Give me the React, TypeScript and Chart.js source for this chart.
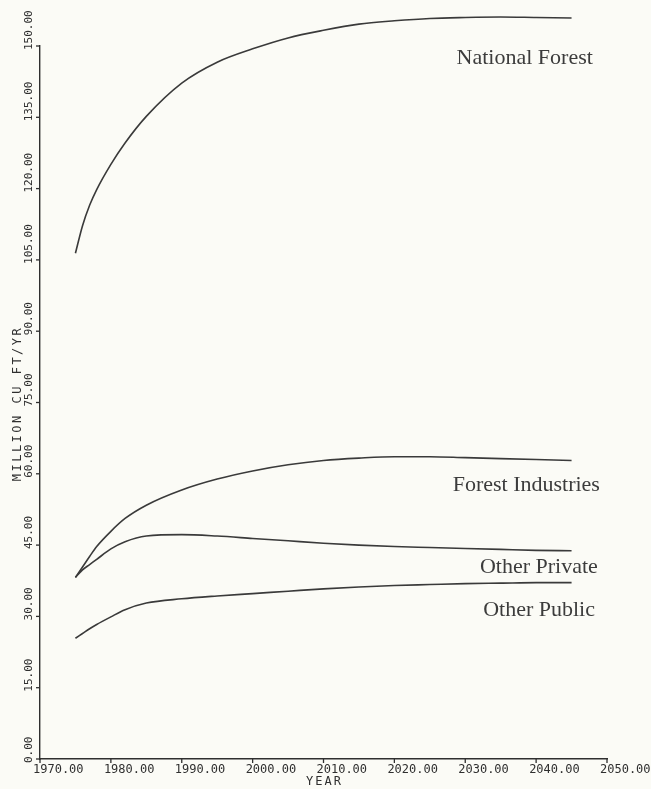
import React, { useEffect, useRef } from "react";
import { Chart, registerables } from "chart.js";

Chart.register(...registerables);

// Projection years shared by all ownership classes
const YEARS = [1975, 1976, 1977, 1978, 1980, 1982, 1985, 1990, 1995, 2000, 2005, 2010, 2015, 2020, 2025, 2030, 2035, 2040, 2045];

// Harvest, million cubic feet per year
const NATIONAL_FOREST = [106.4, 112.2, 116.5, 119.8, 125.1, 129.6, 135.2, 142.2, 146.6, 149.4, 151.7, 153.3, 154.6, 155.3, 155.8, 156.0, 156.1, 156.0, 155.9];
const FOREST_INDUSTRIES = [38.2, 40.4, 42.6, 44.7, 47.9, 50.6, 53.4, 56.6, 58.9, 60.6, 61.9, 62.8, 63.3, 63.6, 63.6, 63.4, 63.2, 63.0, 62.8];
const OTHER_PRIVATE = [38.2, 39.8, 40.9, 42.0, 44.2, 45.7, 46.9, 47.2, 46.9, 46.4, 45.9, 45.4, 45.0, 44.7, 44.5, 44.3, 44.1, 43.9, 43.8];
const OTHER_PUBLIC = [25.4, 26.4, 27.4, 28.3, 29.9, 31.4, 32.8, 33.7, 34.3, 34.8, 35.3, 35.8, 36.2, 36.5, 36.7, 36.9, 37.0, 37.1, 37.1];

const SERIES_NAMES = ["National Forest", "Forest Industries", "Other Private", "Other Public"];
const SERIES_VALUES = [NATIONAL_FOREST, FOREST_INDUSTRIES, OTHER_PRIVATE, OTHER_PUBLIC];

// Where each curve's name is written (right end of text, baseline) in data units
const LABEL_YEAR = [2048.0, 2049.0, 2048.7, 2048.3];
const LABEL_VALUE = [146.2, 56.4, 39.2, 30.1];

// Axis ranges
const X_MIN = 1970;
const X_MAX = 2050;
const X_STEP = 10;
const Y_MIN = 0;
const Y_MAX = 150;
const Y_STEP = 15;

const X_TITLE = "YEAR";
const Y_TITLE = "MILLION CU FT/YR";

const INK = "#2f2f2f";
const PAPER = "#fbfbf6";
const MONO = '"DejaVu Sans Mono", "Liberation Mono", monospace';

const plotterAxes = {
  id: "plotterAxes",
  beforeDraw(chart: any) {
    const { ctx, width, height } = chart;
    ctx.save();
    ctx.fillStyle = PAPER;
    ctx.fillRect(0, 0, width, height);
    ctx.restore();
  },
  afterDraw(chart: any) {
    const { ctx, chartArea } = chart;
    const x = chart.scales.x;
    const y = chart.scales.y;
    ctx.save();
    ctx.strokeStyle = INK;
    ctx.fillStyle = INK;
    ctx.lineWidth = 1.3;

    // x ticks: short marks below the axis, labels starting at the mark
    ctx.font = `12px ${MONO}`;
    ctx.textAlign = "left";
    ctx.textBaseline = "middle";
    x.ticks.forEach((t: any) => {
      const px = x.getPixelForValue(t.value);
      ctx.beginPath();
      ctx.moveTo(px, chartArea.bottom);
      ctx.lineTo(px, chartArea.bottom + 4);
      ctx.stroke();
      ctx.fillText(Number(t.value).toFixed(2), px - 7, chartArea.bottom + 11);
    });

    // y ticks: short marks left of the axis, labels rotated, reading upward
    ctx.font = `11px ${MONO}`;
    y.ticks.forEach((t: any) => {
      const py = y.getPixelForValue(t.value);
      ctx.beginPath();
      ctx.moveTo(chartArea.left - 4, py);
      ctx.lineTo(chartArea.left, py);
      ctx.stroke();
      ctx.save();
      ctx.translate(chartArea.left - 10.5, py + 4);
      ctx.rotate(-Math.PI / 2);
      ctx.textAlign = "left";
      ctx.textBaseline = "middle";
      ctx.fillText(Number(t.value).toFixed(2), 0, 0);
      ctx.restore();
    });

    // axis titles
    ctx.font = `12px ${MONO}`;
    ctx.textAlign = "center";
    ctx.textBaseline = "middle";
    (ctx as any).letterSpacing = "2px";
    ctx.fillText(X_TITLE, (chartArea.left + chartArea.right) / 2 + 1, chartArea.bottom + 23);
    ctx.save();
    (ctx as any).letterSpacing = "2.5px";
    ctx.translate(18, (chartArea.top + chartArea.bottom) / 2 + 1);
    ctx.rotate(-Math.PI / 2);
    ctx.fillText(Y_TITLE, 0, 0);
    ctx.restore();
    (ctx as any).letterSpacing = "0px";

    // curve names
    ctx.font = '22px "Liberation Serif", "Times New Roman", serif';
    ctx.fillStyle = "#3c3c3c";
    ctx.textAlign = "right";
    ctx.textBaseline = "alphabetic";
    SERIES_NAMES.forEach((name, i) => {
      ctx.fillText(name, x.getPixelForValue(LABEL_YEAR[i]), y.getPixelForValue(LABEL_VALUE[i]));
    });
    ctx.restore();
  },
};

export default function App() {
  const canvasRef = useRef<HTMLCanvasElement | null>(null);

  useEffect(() => {
    if (!canvasRef.current) return;
    const chart = new Chart(canvasRef.current, {
      type: "line",
      data: {
        datasets: SERIES_VALUES.map((vals, i) => ({
          label: SERIES_NAMES[i],
          data: YEARS.map((yr, j) => ({ x: yr, y: vals[j] })),
          borderColor: "#3a3a3a",
          borderWidth: 1.6,
          pointRadius: 0,
          fill: false,
          cubicInterpolationMode: "monotone" as const,
          clip: false as any,
        })),
      },
      plugins: [plotterAxes],
      options: {
        animation: false,
        responsive: true,
        maintainAspectRatio: false,
        devicePixelRatio: 1,
        layout: { padding: { left: 40, right: 44, top: 46, bottom: 30 } },
        plugins: { legend: { display: false }, tooltip: { enabled: false } },
        events: [],
        scales: {
          x: {
            type: "linear",
            min: X_MIN,
            max: X_MAX,
            ticks: { display: false, stepSize: X_STEP },
            grid: { display: false, drawTicks: false },
            border: { display: true, color: INK, width: 1.4 },
          },
          y: {
            type: "linear",
            min: Y_MIN,
            max: Y_MAX,
            ticks: { display: false, stepSize: Y_STEP },
            grid: { display: false, drawTicks: false },
            border: { display: true, color: INK, width: 1.4 },
          },
        },
      },
    });
    return () => chart.destroy();
  }, []);

  return (
    <div style={{ position: "fixed", left: 0, top: 0, width: 651, height: 789, background: PAPER }}>
      <canvas ref={canvasRef} />
    </div>
  );
}
